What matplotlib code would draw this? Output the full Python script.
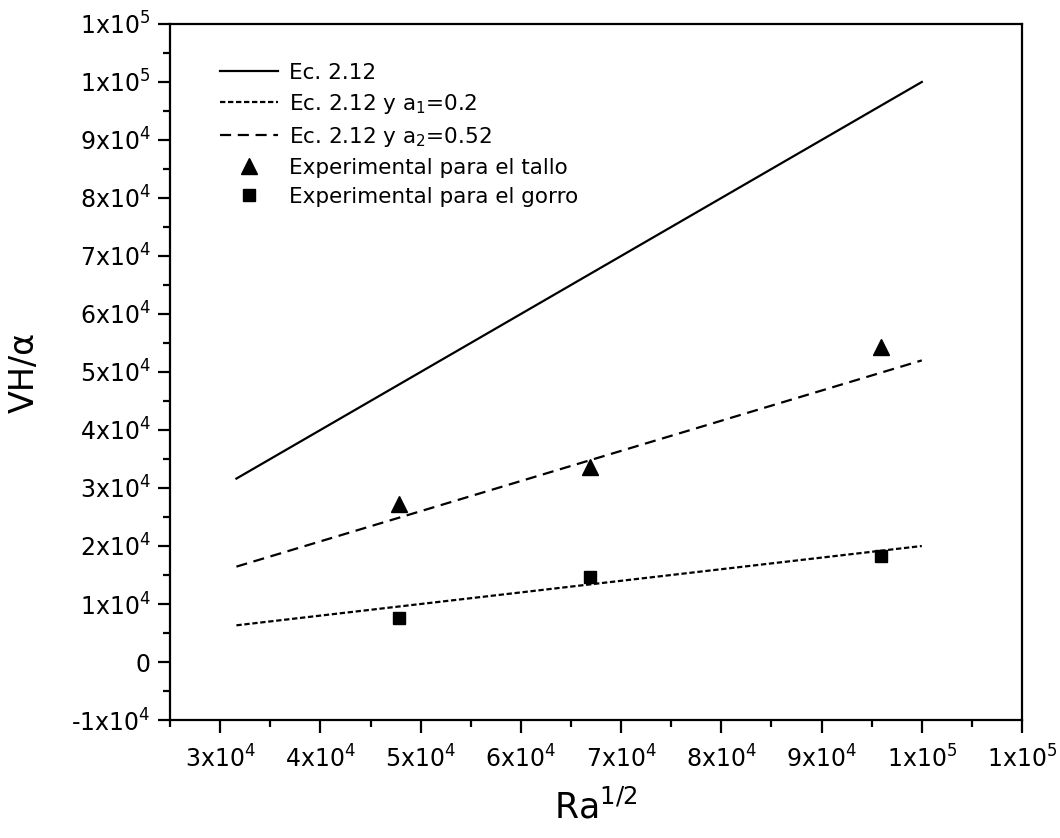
import numpy as np
import matplotlib
matplotlib.use("Agg")
import matplotlib.pyplot as plt
from matplotlib.ticker import FuncFormatter, MultipleLocator

plt.rcParams['font.family'] = ['DejaVu Sans']
plt.rcParams['mathtext.fontset'] = 'dejavusans'

# Ra^(1/2) range for the correlation lines
ra_line = np.array([31623, 100000])
coef_ec = 1.0
coef_a1 = 0.2
coef_a2 = 0.52

# measured points
ra_exp = [47800, 66900, 95900]
vh_tallo = [27200, 33600, 54300]
vh_gorro = [7600, 14700, 18300]


def sci_fmt(v, pos):
    if abs(v) < 1:
        return "0"
    e = int(np.floor(np.log10(abs(v))))
    m = int(round(v / 10 ** e))
    return r"%dx10$^{%d}$" % (m, e)


fig = plt.figure(figsize=(10.6, 8.38), dpi=100)
ax = fig.add_axes([0.1604, 0.1408, 0.8038, 0.8306])

ax.plot(ra_line, coef_ec * ra_line, color='black', lw=1.6, label='Ec. 2.12')
ax.plot(ra_line, coef_a1 * ra_line, color='black', lw=1.6, linestyle=(0, (2.4, 1.2)),
        label=r'Ec. 2.12 y a$_1$=0.2')
ax.plot(ra_line, coef_a2 * ra_line, color='black', lw=1.6, linestyle=(0, (5, 3)),
        label=r'Ec. 2.12 y a$_2$=0.52')
ax.plot(ra_exp, vh_tallo, '^', color='black', ms=11, label='Experimental para el tallo')
ax.plot(ra_exp, vh_gorro, 's', color='black', ms=9, label='Experimental para el gorro')

ax.set_xlim(25000, 110000)
ax.set_ylim(-10000, 110000)
ax.xaxis.set_major_locator(MultipleLocator(10000))
ax.xaxis.set_minor_locator(MultipleLocator(5000))
ax.yaxis.set_major_locator(MultipleLocator(10000))
ax.yaxis.set_minor_locator(MultipleLocator(5000))
ax.xaxis.set_major_formatter(FuncFormatter(sci_fmt))
ax.yaxis.set_major_formatter(FuncFormatter(sci_fmt))
ax.tick_params(which='major', direction='out', length=9, width=1.6, labelsize=17)
ax.tick_params(which='minor', direction='out', length=5, width=1.6)
ax.tick_params(axis='x', pad=9)
ax.tick_params(axis='y', pad=5)
for s in ax.spines.values():
    s.set_linewidth(1.6)

ax.set_xlabel(r'Ra$^{1/2}$', fontsize=25, labelpad=12)
ax.set_ylabel('VH/α', fontsize=24, labelpad=22)

leg = ax.legend(loc='upper left', bbox_to_anchor=(0.036, 0.972), frameon=False,
                fontsize=15.5, handlelength=2.7, handletextpad=0.5,
                labelspacing=0.42, numpoints=1)

fig.savefig('out.png', dpi=100)
